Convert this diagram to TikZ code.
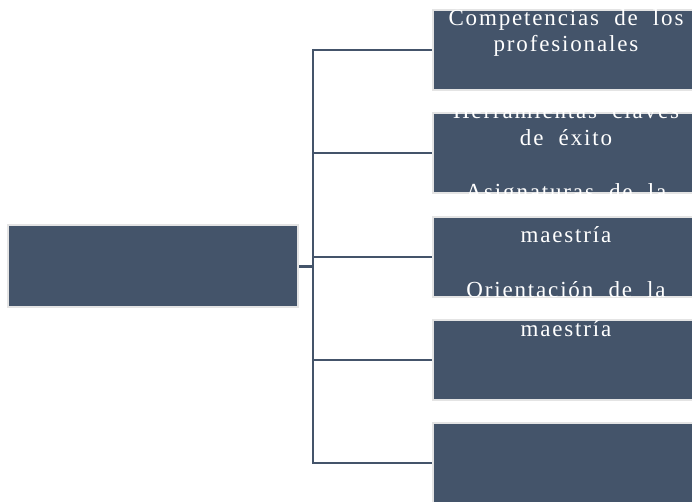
\documentclass[tikz,border=0pt]{standalone}
\usepackage{fontspec}
\usepackage{tikz}
\usetikzlibrary{positioning,calc}
\newfontfamily\boxfont[LetterSpace=8,WordSpace=2]{Liberation Serif}
\definecolor{slate}{HTML}{44546A}
\definecolor{rim}{HTML}{E4E4E4}
\tikzstyle{branch} = [rectangle,fill=slate,draw=rim,line width=2pt,inner sep=0pt,minimum width=266pt,minimum height=80pt]
\tikzstyle{rootbox} = [rectangle,fill=slate,draw=rim,line width=2pt,inner sep=0pt,minimum width=290pt,minimum height=82pt]
\tikzstyle{label} = [text=white,font=\boxfont\fontsize{23}{27}\selectfont,inner sep=0pt,anchor=base]
\tikzstyle{conn} = [draw=slate,line width=2.2pt]
\tikzset{>=latex}

\begin{document}
\begin{tikzpicture}[x=1pt,y=-1pt]
    \useasboundingbox (0,0) rectangle (692,502);
    \clip (0,0) rectangle (692,502);

    \node [rootbox] (root) at (153,266) {};
    \node [branch] (b1) at (566,50) {};
    \node [branch] (b2) at (566,153) {};
    \node [branch] (b3) at (566,257) {};
    \node [branch] (b4) at (566,360) {};
    \node [branch] (b5) at (566,463) {};

    \coordinate (trunk) at (313,266);
    \draw [conn,line width=3pt] (root.east) -- (trunk);
    \draw [conn] ($(trunk |- b1.west)+(0,-1.1)$) -- ($(trunk |- b5.west)+(0,1.1)$);
    \foreach \i in {1,...,5}
      \draw [conn,line width=2pt] (trunk |- b\i.west) -- (b\i.west);

    \node [label] (t1a) at (566,26) {Competencias de los};
    \node [label] (t1b) at (566,52) {profesionales};
    \node [label] (t2a) at (566,119) {Herramientas claves};
    \node [label] (t2b) at (566,146) {de éxito};
    \node [label] (t2c) at (566,200) {Asignaturas de la};
    \node [label] (t3a) at (566,243) {maestría};
    \node [label] (t3b) at (566,297) {Orientación de la};
    \node [label] (t4a) at (566,336) {maestría};
\end{tikzpicture}
\end{document}
